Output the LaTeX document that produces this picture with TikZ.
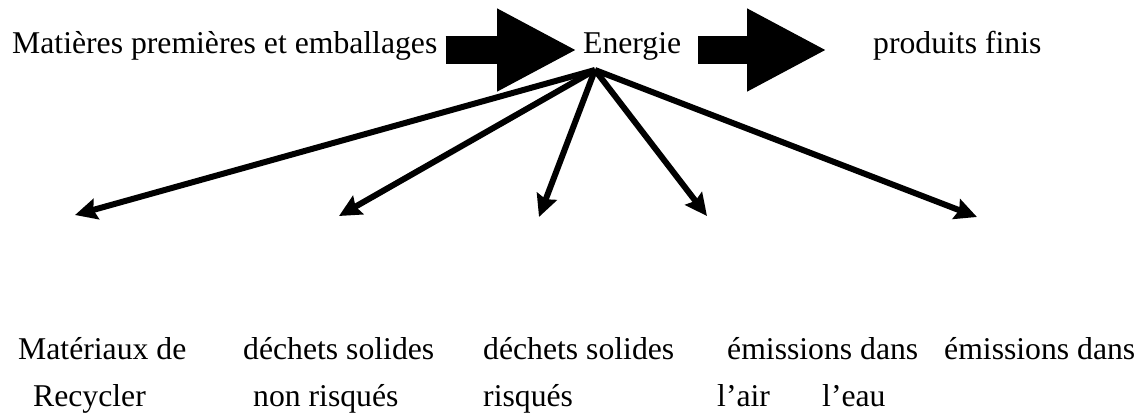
\documentclass[tikz,border=0pt]{standalone}
\usepackage{fontspec}
\setmainfont{Liberation Serif}
\usetikzlibrary{arrows.meta,calc}
\begin{document}
\begin{tikzpicture}[x=1pt,y=-1pt,
  lbl/.style={anchor=base west, inner sep=0pt, font=\fontsize{31.7}{36}\selectfont},
  blockarrow/.style={line width=28pt, line cap=butt,
    -{Triangle[length=80pt,width=77pt]}},
  flow/.style={line width=6pt,
    -{Stealth[length=22pt,width=21pt,inset=3pt]}}]
\useasboundingbox (0,0) rectangle (1144,416);

% process line
\node[lbl] (mp) at (12,53) {Matières premières et emballages};
\node[lbl] (en) at (583,53) {Energie};
\node[lbl] (pf) at (873,53) {produits finis};

\draw[blockarrow] ($(mp.base east)+(8,-3)$) -- ($(en.base west)+(-6,-3)$);
\draw[blockarrow] ($(en.base east)+(17,-3)$) -- ($(pf.base west)+(-46,-3)$);

% outputs
\coordinate (src) at (595,70);
\coordinate (o1) at (75,215);
\coordinate (o2) at (339,216);
\coordinate (o3) at (539,217);
\coordinate (o4) at (707,216);
\coordinate (o5) at (977,217);
\foreach \t in {o1,o2,o3,o4,o5}
  \draw[flow] (src) -- (\t);

% output labels
\node[lbl] (m1) at (18,359) {Matériaux de};
\node[lbl] (m2) at (33,406) {Recycler};
\node[lbl] (d1) at (243,359) {déchets solides};
\node[lbl] (d2) at (253,406) {non risqués};
\node[lbl] (r1) at (483,359) {déchets solides};
\node[lbl] (r2) at (483,406) {risqués};
\node[lbl] (a1) at (727,359) {émissions dans};
\node[lbl] (a2) at (717,406) {l’air};
\node[lbl] (e1) at (944,359) {émissions dans};
\node[lbl] (e2) at (822,406) {l’eau};
\end{tikzpicture}
\end{document}
